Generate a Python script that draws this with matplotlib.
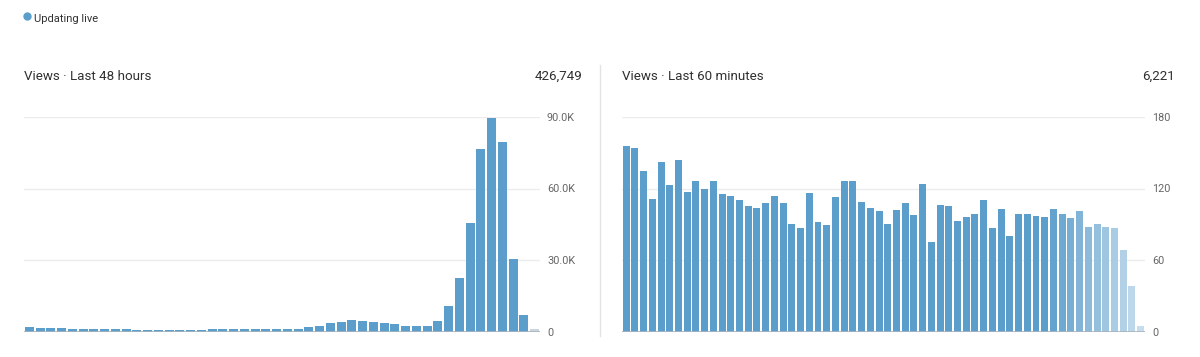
import numpy as np
import matplotlib
matplotlib.use("Agg")
import matplotlib.pyplot as plt
from matplotlib.lines import Line2D
from matplotlib.ticker import FixedLocator

plt.rcParams["font.family"] = ["Roboto", "DejaVu Sans"]

# views per hour, last 48 hours (oldest first)
hour_views = [2000, 1500, 1500, 1500, 1200, 1200, 1200, 1200, 1200, 1200,
              800, 800, 800, 800, 800, 800, 800, 1200, 1200, 1200,
              1200, 1200, 1200, 1200, 1100, 1200, 1800, 2100, 3400, 3800,
              4900, 4200, 3800, 3400, 3100, 2300, 2200, 2200, 4500, 10500,
              22300, 45600, 76500, 89400, 79600, 30600, 7000, 900]
hour_ticks = [0, 30000, 60000, 90000]
hour_tick_labels = ["0", "30.0K", "60.0K", "90.0K"]
hour_total = "426,749"

# views per minute, last 60 minutes (oldest first)
minute_views = [156, 154, 135, 111, 142, 123, 144, 117, 126, 120,
                126, 115, 114, 110, 105, 104, 108, 114, 108, 90,
                87, 116, 92, 89, 113, 126, 126, 109, 104, 101,
                90, 102, 108, 98, 124, 75, 106, 105, 93, 96,
                99, 110, 87, 103, 80, 99, 99, 97, 96, 103,
                99, 95, 101, 88, 90, 88, 87, 68, 38, 5]
minute_ticks = [0, 60, 120, 180]
minute_tick_labels = ["0", "60", "120", "180"]
minute_total = "6,221"

BLUE = np.array([0x5b, 0x9e, 0xcb]) / 255
GRID = "#ececec"
LABEL = "#666666"
TEXT = "#303030"
W, H = 1200, 357

fig = plt.figure(figsize=(W / 100, H / 100), dpi=100)


def px_axes(x0, x1, y_top, y_base):
    return fig.add_axes([x0 / W, 1 - y_base / H, (x1 - x0) / W, (y_base - y_top) / H])


def style(ax, ticks, labels, ymax, n):
    ax.set_ylim(0, ymax)
    ax.set_xlim(-0.5, n - 0.5)
    for s in ax.spines.values():
        s.set_visible(False)
    ax.yaxis.set_major_locator(FixedLocator(ticks))
    ax.set_yticklabels(labels)
    ax.yaxis.tick_right()
    ax.tick_params(axis="y", length=0, pad=5, labelsize=7.8, labelcolor=LABEL)
    ax.set_xticks([])
    ax.grid(axis="y", color=GRID, linewidth=1)
    ax.set_axisbelow(True)
    ax.axhline(0, color="#a9b4bd", linewidth=1.2, zorder=3)


# left: last 48 hours
ax1 = px_axes(24, 540, 117, 331.5)
colors1 = [BLUE] * (len(hour_views) - 1) + [np.array([0.80, 0.83, 0.86])]
ax1.bar(np.arange(len(hour_views)), hour_views, width=0.84, color=colors1, zorder=2)
style(ax1, hour_ticks, hour_tick_labels, 90000, len(hour_views))

# right: last 60 minutes, most recent bars fade out
ax2 = px_axes(621.8, 1145, 117, 331.5)
n = len(minute_views)
fade = np.ones(n)
fade[49:] = np.linspace(0.95, 0.35, n - 49)
colors2 = [BLUE * a + (1 - a) for a in fade]
ax2.bar(np.arange(n), minute_views, width=0.8, color=colors2, zorder=2)
style(ax2, minute_ticks, minute_tick_labels, 180, n)

# headers
fig.text(24 / W, 1 - 76 / H, "Views · Last 48 hours", fontsize=9.6, color=TEXT, va="center")
fig.text(582 / W, 1 - 76 / H, hour_total, fontsize=9.6, color=TEXT, va="center", ha="right")
fig.text(622 / W, 1 - 76 / H, "Views · Last 60 minutes", fontsize=9.6, color=TEXT, va="center")
fig.text(1175 / W, 1 - 76 / H, minute_total, fontsize=9.6, color=TEXT, va="center", ha="right")

fig.add_artist(Line2D([27.5 / W], [1 - 16 / H], marker="o", markersize=5,
                      color=BLUE, transform=fig.transFigure))
fig.text(34 / W, 1 - 18.5 / H, "Updating live", fontsize=8, color=TEXT, va="center")

# separator between panels
fig.add_artist(Line2D([600 / W, 600 / W], [1 - 65 / H, 1 - 336 / H], color="#e3e3e3",
                      linewidth=1, transform=fig.transFigure))

fig.savefig("out.png", dpi=100, facecolor="white")
